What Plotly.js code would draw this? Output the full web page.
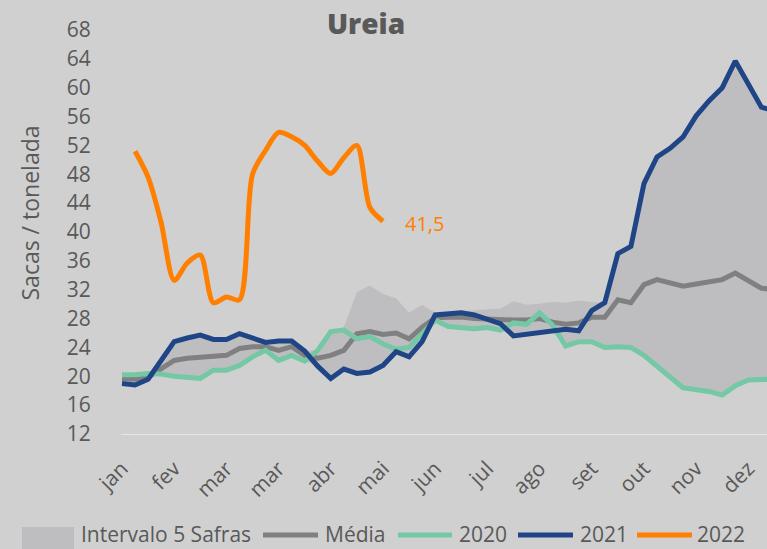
<!DOCTYPE html>
<html>
<head>
<meta charset="utf-8">
<script src="https://cdn.plot.ly/plotly-3.0.1.min.js"></script>
<style>html,body{margin:0;padding:0;background:#d0d0d0;}#chart{width:767px;height:549px;}</style>
</head>
<body>
<div id="chart"></div>
<script>
// Weeks of the year (x positions)
var weeks = [0,1,2,3,4,5,6,7,8,9,10,11,12,13,14,15,16,17,18,19,20,21,22,23,24,25,26,27,28,29,30,31,32,33,34,35,36,37,38,39,40,41,42,43,44,45,46,47,48,49,50];
var weeks2022 = [1,2,3,4,5,6,7,8,9,10,11,12,13,14,15,16,17,18,19,20];

// Tick positions and labels
var tickWeeks = [0,4,8,12,16,20,24,28,32,36,40,44,48];
var tickLabels = ['jan','fev','mar','mar','abr','mai','jun','jul','ago','set','out','nov','dez'];
var yTicks = [12,16,20,24,28,32,36,40,44,48,52,56,60,64,68];

// Series values (Sacas / tonelada)
var bandLow = [19.0,18.8,19.6,20.3,20.0,19.8,19.7,20.85,20.85,21.5,22.7,23.6,22.2,22.9,22.1,21.4,19.7,21.0,20.4,20.6,21.5,23.4,22.7,24.8,27.8,26.9,26.8,26.6,26.75,26.4,25.6,25.8,26.0,26.2,24.2,24.8,24.8,24.0,24.1,24.0,22.9,21.5,19.9,18.4,18.1,17.9,17.4,18.7,19.5,19.6,19.6];
var bandHigh = [20.2,20.2,20.4,22.2,24.8,25.3,25.7,25.1,25.1,25.9,25.3,24.7,24.9,24.9,23.5,23.6,26.2,26.8,31.7,32.6,31.4,30.8,28.8,29.9,28.8,28.8,29.0,29.1,29.2,29.4,30.4,29.9,30.05,30.3,30.2,30.5,30.3,30.2,37.0,38.0,46.7,50.4,51.6,53.2,56.1,58.2,60.0,63.7,60.5,57.3,56.8];
var media = [19.7,19.6,19.9,21.1,22.2,22.5,22.6,22.8,22.9,23.85,24.1,24.1,23.6,24.1,22.9,22.5,22.9,23.6,25.9,26.2,25.8,26.0,25.2,26.8,28.1,28.2,28.2,28.0,27.9,27.9,27.8,27.8,28.0,27.5,27.2,27.4,28.2,28.2,30.6,30.2,32.7,33.4,32.9,32.5,32.8,33.1,33.4,34.3,33.3,32.2,32.0];
var y2020 = [20.2,20.2,20.4,20.3,20.0,19.8,19.7,20.85,20.85,21.5,22.7,23.6,22.2,22.9,22.1,23.6,26.2,26.4,25.2,25.5,24.5,23.75,24.0,25.9,27.8,26.9,26.8,26.6,26.75,26.4,27.4,27.2,28.8,27.1,24.2,24.8,24.8,24.0,24.1,24.0,22.9,21.5,19.9,18.4,18.1,17.9,17.4,18.7,19.5,19.6,19.6];
var y2021 = [19.0,18.8,19.6,22.2,24.8,25.3,25.7,25.1,25.1,25.9,25.3,24.7,24.9,24.9,23.5,21.4,19.7,21.0,20.4,20.6,21.5,23.4,22.7,24.8,28.5,28.7,28.8,28.5,27.9,27.3,25.6,25.8,26.0,26.2,26.5,26.3,29.1,30.2,37.0,38.0,46.7,50.4,51.6,53.2,56.1,58.2,60.0,63.7,60.5,57.3,56.8];
var y2022 = [51.2,47.6,41.3,33.3,35.7,36.8,30.2,31.0,30.6,48.0,51.3,53.8,53.2,52.0,49.8,48.1,50.3,52.0,43.4,41.5];

var seriesNames = ['Intervalo 5 Safras', 'Média', '2020', '2021', '2022'];
var seriesColors = ['#bebec1', '#808080', '#74c8a5', '#1f4586', '#ff7f00'];

var textColor = '#595959';
var fontFam = '"Open Sans", "Noto Sans", sans-serif';

var traces = [
  {x: weeks, y: bandLow, mode: 'lines', line: {width: 0, color: 'rgba(0,0,0,0)'}, showlegend: false, hoverinfo: 'skip'},
  {x: weeks, y: bandHigh, mode: 'lines', fill: 'tonexty', fillcolor: seriesColors[0], line: {width: 0, color: 'rgba(0,0,0,0)'}, name: seriesNames[0]},
  {x: weeks, y: media, mode: 'lines', line: {width: 5, color: seriesColors[1]}, name: seriesNames[1]},
  {x: weeks, y: y2020, mode: 'lines', line: {width: 5, color: seriesColors[2]}, name: seriesNames[2]},
  {x: weeks, y: y2021, mode: 'lines', line: {width: 5, color: seriesColors[3]}, name: seriesNames[3]},
  {x: weeks2022, y: y2022, mode: 'lines', line: {width: 5, color: seriesColors[4], shape: 'spline', smoothing: 0.8}, name: seriesNames[4]}
];

// Plot area geometry in pixels (for placing the legend drawn below the axis)
var L = 121, T = 30, W = 646, H = 404;
function px(xp) { return (xp - L) / W; }
function py(yp) { return (T + H - yp) / H; }

// Custom legend layout (pixel positions of symbols and labels)
var legSym = [[22, 74], [263, 318], [398, 452], [518, 573], [637, 692]];
var legText = [79, 323, 457, 578, 695];
var legY = 534;

var shapes = [];
var annotations = [];
for (var i = 0; i < seriesNames.length; i++) {
  if (i === 0) {
    shapes.push({type: 'rect', xref: 'paper', yref: 'paper', x0: px(legSym[i][0]), x1: px(legSym[i][1]),
                 y0: py(527), y1: py(556), fillcolor: seriesColors[i], line: {width: 0}, layer: 'above'});
  } else {
    shapes.push({type: 'line', xref: 'paper', yref: 'paper', x0: px(legSym[i][0]), x1: px(legSym[i][1]),
                 y0: py(legY + 1), y1: py(legY + 1), line: {width: 5, color: seriesColors[i]}, layer: 'above'});
  }
  annotations.push({xref: 'paper', yref: 'paper', x: px(legText[i]), y: py(legY), xanchor: 'left', yanchor: 'middle',
                    text: seriesNames[i], showarrow: false, font: {size: 21, color: textColor}});
}

annotations.push({xref: 'paper', yref: 'paper', x: px(30), y: py(213.5), xanchor: 'center', yanchor: 'middle', textangle: -90,
  text: 'Sacas / tonelada', showarrow: false, font: {size: 23, color: textColor}});

var last22 = y2022[y2022.length - 1];
annotations.push({x: weeks2022[weeks2022.length - 1], y: last22, xref: 'x', yref: 'y', xanchor: 'left', yanchor: 'middle', xshift: 20, yshift: -2,
  text: last22.toFixed(1).replace('.', ','), showarrow: false, font: {size: 20, color: seriesColors[4]}});

var layout = {
  width: 767, height: 549,
  paper_bgcolor: '#d0d0d0', plot_bgcolor: '#d0d0d0',
  margin: {l: L, r: 0, t: T, b: 549 - T - H, pad: 0},
  font: {family: fontFam, color: textColor, size: 21},
  title: {text: 'Ureia', x: 366/767, xanchor: 'center', xref: 'container', y: 1 - 24/549, yanchor: 'middle', yref: 'container',
          font: {family: fontFam, size: 28, color: textColor, weight: 800}},
  xaxis: {range: [-0.077, 49.43], tickmode: 'array', tickvals: tickWeeks, ticktext: tickLabels, tickangle: -45,
          ticks: 'outside', ticklen: 13, tickcolor: 'rgba(0,0,0,0)', showgrid: false, zeroline: false,
          showline: true, linecolor: '#e6e6e6', linewidth: 1, tickfont: {size: 21, color: textColor}, fixedrange: true},
  yaxis: {range: [12, 68], tickmode: 'array', tickvals: yTicks, ticks: 'outside', ticklen: 25, tickcolor: 'rgba(0,0,0,0)',
          showgrid: false, zeroline: false, showline: false, tickfont: {size: 21, color: textColor}, fixedrange: true},
  showlegend: false,
  shapes: shapes,
  annotations: annotations
};

Plotly.newPlot('chart', traces, layout, {displayModeBar: false, staticPlot: true});
</script>
</body>
</html>
